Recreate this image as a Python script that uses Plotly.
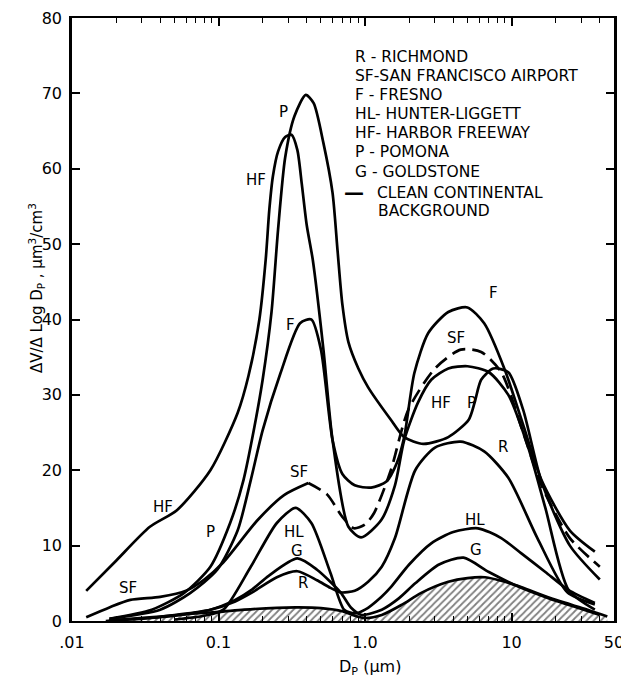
import numpy as np
import plotly.graph_objects as go

# ---------------- data ----------------
R_x = [0.018, 0.03, 0.05, 0.088, 0.13, 0.17, 0.25, 0.345, 0.47, 0.58, 0.68, 0.85, 1.05, 1.3, 1.6, 2.2, 3.0, 4.5, 6.5, 9.5, 15, 24, 37]
R_y = [0.1, 0.3, 0.8, 1.5, 2.6, 3.8, 5.8, 6.6, 5.4, 4.4, 3.8, 4.0, 5.2, 7.2, 11, 20, 23, 23.8, 22.5, 19, 11, 3.8, 2.2]

G_x = [0.018, 0.04, 0.088, 0.13, 0.17, 0.22, 0.345, 0.47, 0.68, 0.8, 0.95, 1.3, 1.7, 2.2, 3.2, 4.7, 7, 11, 18, 30, 40]
G_y = [0.1, 0.5, 1.5, 2.8, 4.2, 6.0, 8.3, 6.8, 3.8, 1.8, 0.8, 1.5, 3.0, 5.0, 7.5, 8.4, 6.5, 4.6, 3.0, 1.6, 0.8]

HL_x = [0.05, 0.08, 0.108, 0.166, 0.25, 0.336, 0.43, 0.58, 0.72, 0.85, 1.0, 1.29, 1.5, 2.0, 2.83, 4.0, 5.9, 8.5, 11.6, 17, 24.5, 37]
HL_y = [0.2, 0.7, 1.5, 7.2, 13, 15, 13, 6.4, 1.5, 1.0, 1.5, 3.2, 4.5, 7.5, 10.3, 11.8, 12.3, 11, 9, 6.5, 4.1, 2.4]

HF_x = [0.0125, 0.02, 0.034, 0.052, 0.088, 0.135, 0.16, 0.19, 0.21, 0.222, 0.235, 0.255, 0.285, 0.315, 0.345, 0.37, 0.4, 0.44,
        0.52, 0.6, 0.77, 0.94, 1.29, 1.6, 1.85, 2.3, 2.83, 3.7, 5.0, 7.0, 9.5, 13, 17, 24.5, 37]
HF_y = [4.0, 8.0, 12.5, 14.7, 20, 27.6, 32.5, 40, 48, 54.5, 59, 62.3, 64.2, 64.5, 62.5, 58, 52.5, 47.9,
        36, 24, 12.5, 11.1, 13.4, 18, 24, 29, 32, 33.5, 33.8, 33, 30, 23, 15, 4.1, 1.5]

P_x = [0.018, 0.035, 0.058, 0.088, 0.12, 0.148, 0.174, 0.2, 0.23, 0.255, 0.285, 0.33, 0.394, 0.446, 0.52, 0.6,
       0.65, 0.7, 0.77, 0.9, 1.05, 1.5, 1.85, 2.5, 3.7, 5.1, 5.6, 6.2, 7.5, 9.5, 12, 16, 25, 40]
P_y = [0.3, 1.5, 3.7, 7.2, 13, 18.7, 25.3, 32, 41, 52, 61.5, 67, 69.8, 68.7, 63.4, 56.8,
       49, 42, 37, 33.5, 31, 26.7, 24.4, 23.5, 24.4, 26.7, 29, 32, 33.5, 33, 28, 18.5, 10, 5.5]

F_x = [0.018, 0.04, 0.064, 0.098, 0.135, 0.166, 0.2, 0.265, 0.36, 0.43, 0.5, 0.6, 0.7, 0.85, 1.1, 1.4, 1.65,
       1.85, 2.17, 2.7, 3.7, 5.0, 6.5, 9.0, 12, 16, 25, 37]
F_y = [0.3, 1.5, 3.7, 6.8, 12, 18.7, 25.3, 32.9, 39.5, 40, 36, 24, 19.5, 18, 17.7, 18.5, 21,
       24.4, 32.9, 38.2, 41, 41.6, 39.5, 33.3, 26, 18.7, 12, 9.2]

SF_solid_x = [0.0125, 0.018, 0.025, 0.04, 0.06, 0.08, 0.108, 0.185, 0.28, 0.41]
SF_solid_y = [0.5, 1.8, 2.8, 3.2, 4.0, 5.5, 7.8, 13.4, 16.7, 18.3]
SF_dash_x = [0.41, 0.55, 0.7, 0.84, 1.0, 1.15, 1.5, 1.97, 3.0, 4.5, 6.2, 8.5, 12, 16, 25, 40]
SF_dash_y = [18.3, 16.8, 13.8, 12.3, 12.8, 14.3, 20, 28, 33.5, 36, 35.7, 33, 25, 18, 11, 7.2]

BG_x = [0.017, 0.025, 0.04, 0.07, 0.1, 0.15, 0.25, 0.35, 0.5, 0.7, 0.85, 1.0, 1.3, 1.8, 2.4, 3.7, 5.0, 6.6, 9,
        11.6, 20, 33, 45]
BG_y = [0.0, 0.3, 0.6, 1.0, 1.2, 1.5, 1.75, 1.8, 1.7, 1.3, 0.7, 0.4, 0.8, 2.2, 3.7, 5.2, 5.7, 5.8, 5.2,
        4.5, 2.8, 1.5, 0.6]

# curve labels: (text, x, y)
label_text = ["P", "HF", "F", "SF", "HL", "G", "R", "HF", "P", "SF",
              "F", "SF", "HF", "P", "R", "HL", "G"]
label_x = [0.279, 0.179, 0.311, 0.353, 0.326, 0.345, 0.375, 0.042, 0.088, 0.0242,
           7.5, 4.2, 3.3, 5.3, 8.8, 5.6, 5.7]
label_y = [67.5, 58.5, 39.3, 19.8, 11.8, 9.3, 5.0, 15.1, 11.8, 4.4,
           43.5, 37.5, 28.9, 28.9, 23.1, 13.4, 9.4]

legend_lines = ["R - RICHMOND", "SF-SAN FRANCISCO AIRPORT", "F - FRESNO", "HL- HUNTER-LIGGETT",
                "HF- HARBOR FREEWAY", "P - POMONA", "G - GOLDSTONE",
                "CLEAN CONTINENTAL", "BACKGROUND"]

x_tickvals = [0.01, 0.1, 1, 10, 50]
x_ticktext = [".01", "0.1", "1.0", "10", "50"]
y_tickvals = [0, 10, 20, 30, 40, 50, 60, 70, 80]

# ---------------- figure ----------------
FONT = "DejaVu Sans"
LW = 2.7
fig = go.Figure()

fig.add_trace(go.Scatter(
    x=BG_x, y=BG_y, mode="lines", fill="tozeroy",
    fillcolor="rgba(255,255,255,0)",
    fillpattern=dict(shape="/", fgcolor="black", bgcolor="white", size=5, solidity=0.35),
    line=dict(color="black", width=LW, shape="spline", smoothing=0.8),
    hoverinfo="skip", showlegend=False))


def add_curve(x, y, dash="solid"):
    fig.add_trace(go.Scatter(
        x=x, y=y, mode="lines",
        line=dict(color="black", width=LW, shape="spline", smoothing=0.7, dash=dash),
        hoverinfo="skip", showlegend=False))


add_curve(R_x, R_y)
add_curve(G_x, G_y)
add_curve(HL_x, HL_y)
add_curve(HF_x, HF_y)
add_curve(P_x, P_y)
add_curve(F_x, F_y)
add_curve(SF_solid_x, SF_solid_y)
add_curve(SF_dash_x, SF_dash_y, dash="14px,7px")

ann = []
for t, xv, yv in zip(label_text, label_x, label_y):
    ann.append(dict(text=t, x=np.log10(xv), y=yv, xref="x", yref="y", showarrow=False,
                    xanchor="center", yanchor="middle",
                    font=dict(family=FONT, size=15, color="black")))

legend_py = [57, 76, 95, 114, 133, 152, 172, 193, 211]
legend_px = [353, 353, 353, 353, 353, 353, 353, 375, 376]
for t, px, py in zip(legend_lines, legend_px, legend_py):
    ann.append(dict(text=t, x=(px - 72) / 542, y=(621 - py) / 603, xref="paper", yref="paper",
                    xanchor="left", yanchor="middle", showarrow=False,
                    font=dict(family=FONT, size=15.5, color="black")))
# legend line sample for the background curve
ann.append(dict(text="<b>\u2014</b>", x=(342 - 72) / 542, y=(621 - 192) / 603, xref="paper", yref="paper",
                xanchor="left", yanchor="middle", showarrow=False,
                font=dict(family=FONT, size=20, color="black")))

ann.append(dict(text="\u0394V/\u0394 Log D<sub>P</sub> , \u03bcm<sup>3</sup>/cm<sup>3</sup>",
                x=(36 - 72) / 542, y=(621 - 288) / 603, xref="paper", yref="paper",
                xanchor="center", yanchor="middle",
                textangle=-90, showarrow=False, font=dict(family=FONT, size=15, color="black")))
ann.append(dict(text="D<sub>P</sub> (\u03bcm)", x=(370 - 72) / 542, y=(621 - 667) / 603,
                xref="paper", yref="paper", xanchor="center", yanchor="middle", showarrow=False,
                font=dict(family=FONT, size=16, color="black")))

minor_vals = [m * 10.0 ** e for e in range(-2, 2) for m in range(2, 10) if m * 10.0 ** e < 50]

fig.update_layout(
    width=621, height=678,
    margin=dict(l=72, r=7, t=18, b=57, autoexpand=False),
    paper_bgcolor="white", plot_bgcolor="white",
    annotations=ann,
    xaxis=dict(type="log", range=[-2, np.log10(50)], tickvals=x_tickvals, ticktext=x_ticktext,
               ticks="inside", ticklen=8, tickwidth=1.5, tickcolor="black",
               mirror="allticks", showline=True, linewidth=2, linecolor="black",
               showgrid=False, zeroline=False, ticklabelstandoff=6, automargin=False,
               ticklabeloverflow="allow",
               tickfont=dict(family=FONT, size=16, color="black"),
               minor=dict(tickvals=minor_vals, ticks="inside", ticklen=5, tickwidth=1.2,
                          tickcolor="black", showgrid=False)),
    yaxis=dict(range=[0, 80], tickvals=y_tickvals, ticks="inside", ticklen=8, tickwidth=1.5,
               tickcolor="black", mirror="allticks", showline=True, linewidth=2.5,
               linecolor="black", showgrid=False, zeroline=False, ticklabelstandoff=4,
               automargin=False,
               tickfont=dict(family=FONT, size=16, color="black")),
)

fig.write_html("out.html")
